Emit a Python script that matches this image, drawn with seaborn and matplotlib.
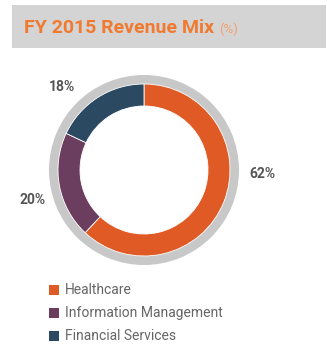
import matplotlib
matplotlib.use("Agg")
import matplotlib.pyplot as plt
from matplotlib.patches import Rectangle
import seaborn as sns

categories = ["Healthcare", "Information Management", "Financial Services"]
values = [62, 20, 18]
labels = ["62%", "20%", "18%"]
colors = ["#E05A26", "#6B3D5E", "#2B4A62"]

sns.set_style("white")
plt.rcParams["font.family"] = ["Roboto", "DejaVu Sans"]

W, H = 327, 345
fig = plt.figure(figsize=(W / 100, H / 100), dpi=100)
fig.patch.set_facecolor("white")

# overlay axes in pixel coordinates
ov = fig.add_axes([0, 0, 1, 1])
ov.set_xlim(0, W)
ov.set_ylim(H, 0)
ov.axis("off")
ov.add_patch(Rectangle((12, 5), 314, 43, facecolor="#D4D4D5", edgecolor="none"))
ov.text(24, 28, "FY 2015 Revenue Mix", color="#F07A2F", fontsize=14,
        fontweight="bold", va="center", ha="left")
ov.text(219, 29, "(%)", color="#F4A070", fontsize=9.5, va="center", ha="left")

# legend
for i, (cat, col) in enumerate(zip(categories, colors)):
    y = 290 + i * 23
    ov.add_patch(Rectangle((49, y - 5), 10, 10, facecolor=col, edgecolor="none"))
    ov.text(65, y, cat, color="#666666", fontsize=10, va="center", ha="left")

# donut
cx, cy, R = 144, 170, 100
ax = fig.add_axes([(cx - R) / W, (H - cy - R) / H, 2 * R / W, 2 * R / H])
ax.pie([1], radius=0.95, colors=["#C8C8C8"], wedgeprops=dict(width=0.10, edgecolor="none"))
ax.pie(values, radius=0.86, colors=colors, startangle=90, counterclock=False,
       wedgeprops=dict(width=0.22, edgecolor="white", linewidth=0.6))
ax.set_xlim(-1, 1)
ax.set_ylim(-1, 1)
ax.set_aspect("equal")
ax.axis("off")

label_pos = [(262, 174), (33, 200), (62, 87)]
for lab, (x, y) in zip(labels, label_pos):
    ov.text(x, y, lab, color="#555555", fontsize=10, fontweight="bold",
            ha="center", va="center")
ov.set_zorder(3)
ov.patch.set_alpha(0)

fig.savefig("out.png", dpi=100)
